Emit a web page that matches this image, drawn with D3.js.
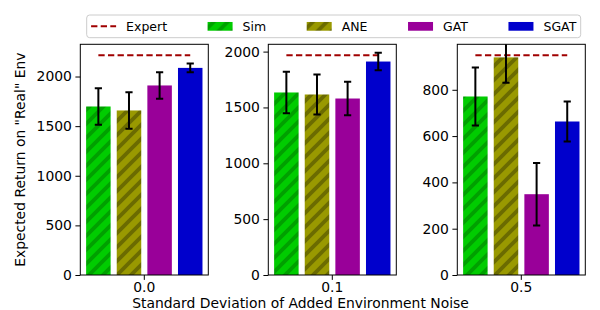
<!DOCTYPE html>
<html>
<head>
<meta charset="utf-8">
<script src="https://cdn.jsdelivr.net/npm/d3@7"></script>
<style>
  body { margin: 0; background: #fff; }
  svg text { font-family: "DejaVu Sans", sans-serif; fill: #000; }
</style>
</head>
<body>
<div id="main"></div>
<script>
/// chart data ///
const noiseLevels = ['0.0', '0.1', '0.5'];
const methods = ['Sim', 'ANE', 'GAT', 'SGAT'];
const expertReturn = [2214, 1967, 949];
const simMean  = [1698, 1634, 771];
const simErr   = [184, 185, 125];
const aneMean  = [1658, 1616, 940];
const aneErr   = [184, 180, 110];
const gatMean  = [1910, 1580, 349];
const gatErr   = [134, 150, 135];
const sgatMean = [2087, 1911, 663];
const sgatErr  = [44, 78, 86];
const yTicks = [[0, 500, 1000, 1500, 2000], [0, 500, 1000, 1500, 2000], [0, 200, 400, 600, 800]];

const means = [simMean, aneMean, gatMean, sgatMean];
const errs = [simErr, aneErr, gatErr, sgatErr];
const fills = ['url(#hatchSim)', 'url(#hatchAne)', '#990099', '#0000cc'];

const w = 600, h = 310;
const panelLeft = [80.3, 268.3, 457.3];
const panelW = 128;
const plotTop = 44.3, plotBottom = 275;
const fs = 13.9;

const svg = d3.select('#main').append('svg')
    .attr('width', w)
    .attr('height', h);

// hatch patterns for Sim / ANE
const defs = svg.append('defs');
function hatch(id, bg, fg) {
    const p = defs.append('pattern')
        .attr('id', id)
        .attr('patternUnits', 'userSpaceOnUse')
        .attr('width', 14)
        .attr('height', 14);
    p.append('rect').attr('width', 14).attr('height', 14).attr('fill', bg);
    p.append('path')
        .attr('d', 'M-3.5,3.5L3.5,-3.5M0,14L14,0M10.5,17.5L17.5,10.5')
        .attr('stroke', fg)
        .attr('stroke-width', 3.8);
}
hatch('hatchSim', '#00cc00', '#00a000');
hatch('hatchAne', '#999900', '#6b6b00');

// bar positions in "data units": spacing 1, width 0.8
const x = d3.scaleLinear().domain([-2.09, 2.09]);
const offsets = [-1.5, -0.5, 0.5, 1.5];

noiseLevels.forEach(function(level, p) {
    const left = panelLeft[p];
    x.range([left, left + panelW]);
    const y = d3.scaleLinear()
        .domain([0, expertReturn[p] * 1.05])
        .range([plotBottom, plotTop]);

    const g = svg.append('g');

    defs.append('clipPath').attr('id', 'clip' + p)
        .append('rect')
        .attr('x', left).attr('y', plotTop)
        .attr('width', panelW).attr('height', plotBottom - plotTop);

    const plot = g.append('g').attr('clip-path', 'url(#clip' + p + ')');

    const rows = methods.map((m, i) => ({ m: m, i: i, v: means[i][p], e: errs[i][p] }));

    plot.selectAll('rect.bar')
        .data(rows)
        .enter()
        .append('rect')
        .attr('class', 'bar')
        .attr('x', d => x(offsets[d.i] - 0.4))
        .attr('width', d => x(offsets[d.i] + 0.4) - x(offsets[d.i] - 0.4))
        .attr('y', d => y(d.v))
        .attr('height', d => y(0) - y(d.v))
        .attr('fill', d => fills[d.i]);

    // expert line
    plot.append('line')
        .attr('x1', x(offsets[0]))
        .attr('x2', x(offsets[3]))
        .attr('y1', y(expertReturn[p]))
        .attr('y2', y(expertReturn[p]))
        .attr('stroke', '#a00000')
        .attr('stroke-width', 2)
        .attr('stroke-dasharray', '6.3,3.3');

    // error bars
    const eb = plot.selectAll('g.err')
        .data(rows)
        .enter()
        .append('g')
        .attr('class', 'err')
        .attr('stroke', '#000')
        .attr('stroke-width', 2);
    eb.append('line')
        .attr('x1', d => x(offsets[d.i])).attr('x2', d => x(offsets[d.i]))
        .attr('y1', d => y(d.v - d.e)).attr('y2', d => y(d.v + d.e));
    [-1, 1].forEach(function(s) {
        eb.append('line')
            .attr('x1', d => x(offsets[d.i]) - 3.6).attr('x2', d => x(offsets[d.i]) + 3.6)
            .attr('y1', d => y(d.v + s * d.e)).attr('y2', d => y(d.v + s * d.e));
    });

    // y axis
    const yAxis = d3.axisLeft(y)
        .tickValues(yTicks[p])
        .tickFormat(d3.format('d'))
        .tickSize(4.9)
        .tickPadding(3.5);
    const ya = g.append('g')
        .attr('transform', 'translate(' + left + ',0)')
        .call(yAxis);
    ya.select('.domain').remove();
    ya.selectAll('line').attr('stroke', '#000').attr('stroke-width', 1);
    ya.selectAll('text')
        .style('font-family', '"DejaVu Sans", sans-serif')
        .style('font-size', fs + 'px')
        .attr('fill', '#000');

    // x tick
    const cx = x(0);
    g.append('line')
        .attr('x1', cx).attr('x2', cx)
        .attr('y1', plotBottom).attr('y2', plotBottom + 4.9)
        .attr('stroke', '#000');
    g.append('text')
        .attr('x', cx)
        .attr('y', 292)
        .attr('text-anchor', 'middle')
        .style('font-size', fs + 'px')
        .text(level);

    // frame
    g.append('rect')
        .attr('x', left).attr('y', plotTop)
        .attr('width', panelW).attr('height', plotBottom - plotTop)
        .attr('fill', 'none')
        .attr('stroke', '#000')
        .attr('stroke-width', 1);
});

// axis labels
svg.append('text')
    .attr('transform', 'translate(25,' + (plotTop + plotBottom) / 2 + ') rotate(-90)')
    .attr('text-anchor', 'middle')
    .style('font-size', fs + 'px')
    .text('Expected Return on "Real" Env');

svg.append('text')
    .attr('x', 300.5)
    .attr('y', 307.5)
    .attr('text-anchor', 'middle')
    .style('font-size', fs + 'px')
    .text('Standard Deviation of Added Environment Noise');

/// Legend ///
const lfs = 12.5;
const box = { x: 86.7, y: 15, w: 494, h: 22.7 };
const legend = svg.append('g');
legend.append('rect')
    .attr('x', box.x).attr('y', box.y)
    .attr('width', box.w).attr('height', box.h)
    .attr('rx', 3)
    .attr('fill', '#fff')
    .attr('stroke', '#cccccc')
    .attr('stroke-width', 1);

const legendNames = ['Expert'].concat(methods);
const items = legend.selectAll('g.item')
    .data(legendNames)
    .enter()
    .append('g')
    .attr('class', 'item');
items.append('text')
    .attr('y', box.y + box.h / 2)
    .attr('dy', '0.35em')
    .style('font-size', lfs + 'px')
    .text(d => d);

const handleW = 2 * lfs, textPad = 0.8 * lfs;
const widths = [];
items.select('text').each(function() { widths.push(handleW + textPad + this.getComputedTextLength()); });
const inner0 = box.x + 4.4, inner1 = box.x + box.w - 4.4;
const gap = (inner1 - inner0 - d3.sum(widths)) / (widths.length - 1);
let cur = inner0;
const starts = widths.map(wd => { const s = cur; cur += wd + gap; return s; });

items.attr('transform', (d, i) => 'translate(' + starts[i] + ',0)');
items.select('text').attr('x', handleW + textPad);

items.filter((d, i) => i === 0)
    .append('line')
    .attr('x1', 0).attr('x2', handleW)
    .attr('y1', box.y + box.h / 2).attr('y2', box.y + box.h / 2)
    .attr('stroke', '#a00000')
    .attr('stroke-width', 2)
    .attr('stroke-dasharray', '6.3,3.3');

items.filter((d, i) => i > 0)
    .append('rect')
    .attr('x', 0)
    .attr('y', box.y + box.h / 2 - 0.35 * lfs)
    .attr('width', handleW)
    .attr('height', 0.7 * lfs)
    .attr('fill', (d, i) => fills[i]);
</script>
</body>
</html>
